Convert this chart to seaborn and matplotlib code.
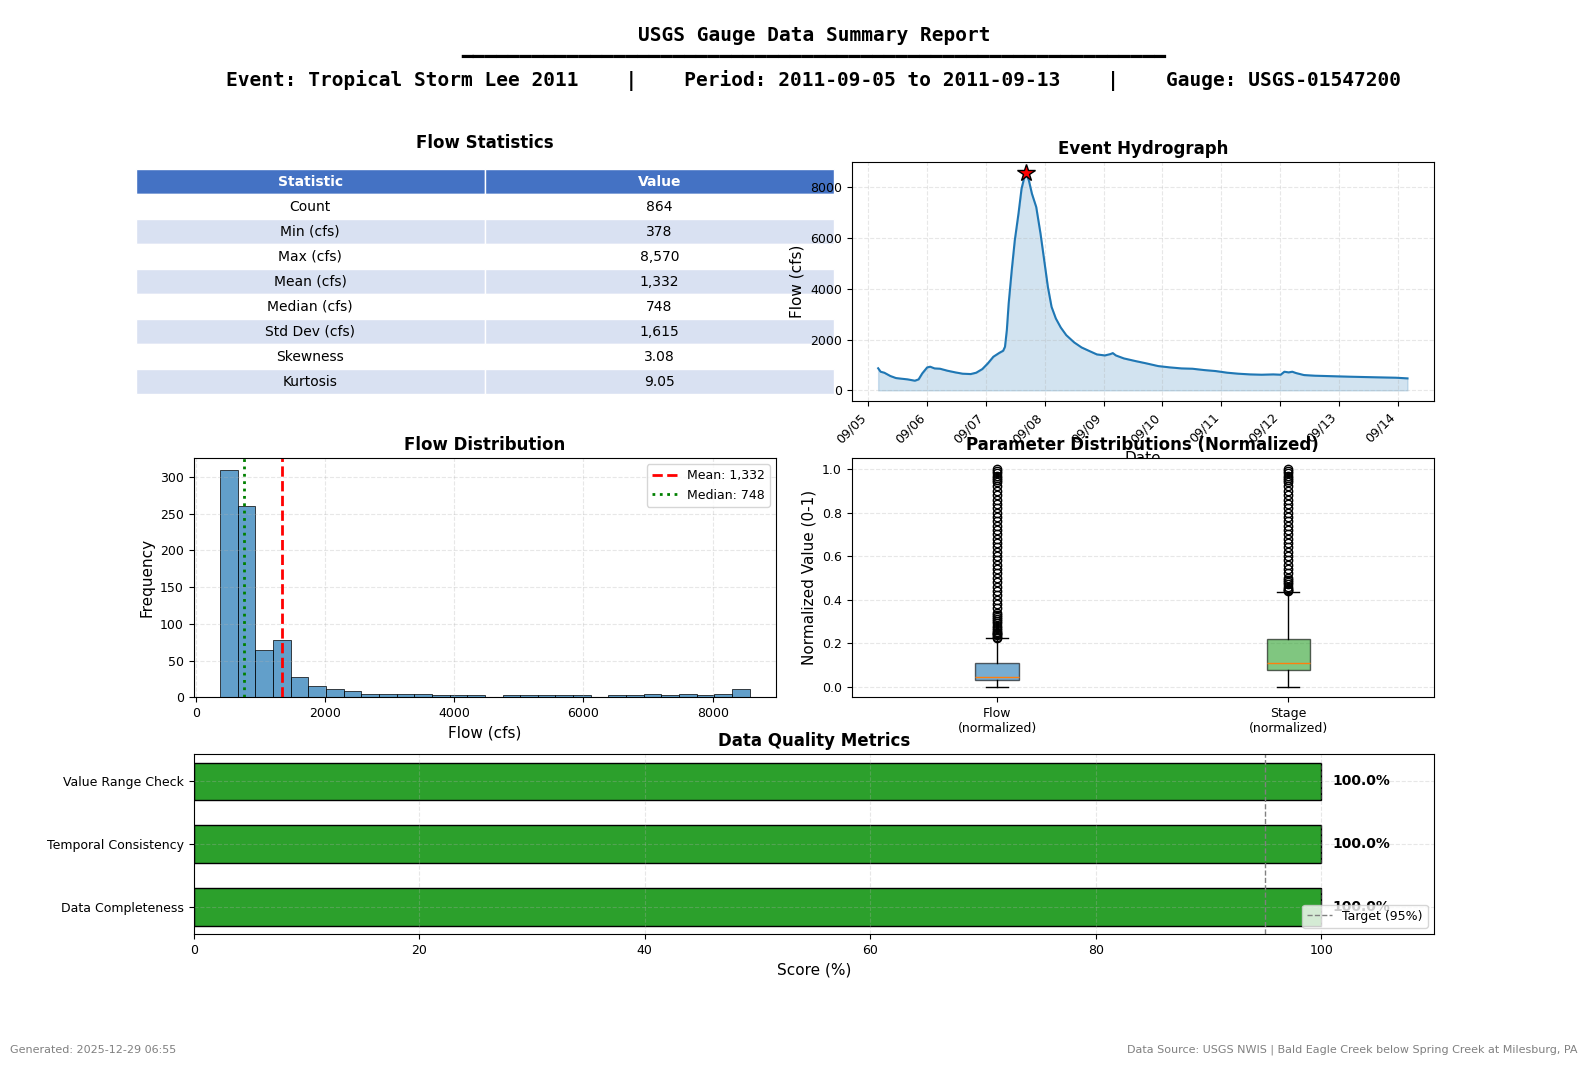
import numpy as np
import pandas as pd
import matplotlib
matplotlib.use("Agg")
import matplotlib.pyplot as plt
import matplotlib.dates as mdates
import seaborn as sns

# --- header / footer text ---
report_title = "USGS Gauge Data Summary Report"
event_name = "Tropical Storm Lee 2011"
period = "2011-09-05 to 2011-09-13"
gauge_id = "USGS-01547200"
generated = "Generated: 2025-12-29 06:55"
source = "Data Source: USGS NWIS | Bald Eagle Creek below Spring Creek at Milesburg, PA"

# --- flow statistics table ---
stat_names = ["Count", "Min (cfs)", "Max (cfs)", "Mean (cfs)", "Median (cfs)",
              "Std Dev (cfs)", "Skewness", "Kurtosis"]
stat_values = ["864", "378", "8,570", "1,332", "748", "1,615", "3.08", "9.05"]

# --- hydrograph: hours after 2011-09-05 00:00, flow in cfs ---
hydro_hours = [4, 5, 6.5, 9, 11.25, 13.5, 16, 17.5, 19, 20.5, 22, 24, 25.25, 27,
               29.25, 32.25, 35.5, 38.5, 41.75, 44, 46.5, 48.75, 51, 53.5, 55, 55.75,
               56.5, 57.25, 58.5, 59.75, 61.25, 62.5, 63.5, 64.25, 65.5, 66.75, 68.5,
               70.25, 71.75, 73.25, 74.75, 76.5, 78.5, 80.75, 84, 87, 90.25, 93.25,
               96.5, 98.75, 99.75, 101, 104.25, 109, 113.5, 118.25, 123, 127.75,
               132.25, 137, 141.75, 146.5, 151, 155.75, 160.5, 165.25, 168.25, 169.75,
               171.5, 173, 174.5, 177.75, 182.25, 187, 191.75, 196.5, 202.75, 209,
               215.25, 220]
hydro_flow = [870, 734, 695, 564, 485, 459, 433, 406, 380, 433, 669, 905, 931, 865,
              852, 774, 708, 656, 642, 695, 839, 1062, 1324, 1481, 1560, 1717,
              2373, 3422, 4733, 5913, 6961, 7944, 8338, 8570, 8272, 7748, 7224,
              6175, 5126, 4077, 3291, 2832, 2478, 2176, 1888, 1691, 1547, 1416,
              1376, 1429, 1468, 1376, 1259, 1154, 1062, 957, 905, 865, 852, 800,
              760, 695, 656, 629, 616, 629, 616, 734, 708, 734, 682, 603, 577, 564,
              551, 538, 524, 511, 498, 472]
peak_hour = 64.25
peak_flow = 8570

# --- flow histogram (30 equal bins between min and max) ---
flow_min, flow_max = 378, 8570
hist_counts = [310, 260, 65, 78, 28, 15, 12, 9, 5, 5, 4, 4, 3, 3, 3, 1, 3, 3, 3,
               3, 3, 1, 3, 3, 4, 3, 4, 3, 4, 11]
mean_flow = 1332
median_flow = 748

# --- normalized box plot summaries ---
box_labels = ["Flow\n(normalized)", "Stage\n(normalized)"]
box_q1 = [0.029, 0.075]
box_med = [0.043, 0.107]
box_q3 = [0.107, 0.218]
box_whislo = [0.0, 0.0]
box_whishi = [0.222, 0.433]
flow_fliers = [0.225, 0.23, 0.235, 0.24, 0.245, 0.25, 0.26, 0.27, 0.28, 0.29, 0.30,
               0.31, 0.32, 0.33, 0.34, 0.36, 0.38, 0.40, 0.42, 0.44, 0.46, 0.48,
               0.50, 0.52, 0.54, 0.56, 0.58, 0.60, 0.62, 0.64, 0.66, 0.68, 0.70,
               0.72, 0.74, 0.76, 0.78, 0.80, 0.82, 0.84, 0.86, 0.88, 0.90, 0.92,
               0.94, 0.95, 0.96, 0.97, 0.98, 0.99, 1.0]
stage_fliers = [0.44, 0.445, 0.45, 0.46, 0.47, 0.48, 0.49, 0.50, 0.52, 0.54, 0.56,
                0.58, 0.60, 0.62, 0.64, 0.66, 0.68, 0.70, 0.72, 0.74, 0.76, 0.78,
                0.80, 0.82, 0.84, 0.86, 0.88, 0.90, 0.92, 0.94, 0.95, 0.96, 0.97,
                0.98, 0.99, 1.0]

# --- data quality ---
quality_metrics = ["Data Completeness", "Temporal Consistency", "Value Range Check"]
quality_scores = [100.0, 100.0, 100.0]
target_score = 95

# ---------------------------------------------------------------
fig = plt.figure(figsize=(15.88, 10.66), dpi=100)
left, right = 0.122, 0.903
gs = fig.add_gridspec(3, 2, left=left, right=right, top=0.848, bottom=0.124,
                      hspace=0.26, wspace=0.13, height_ratios=[4, 4, 3])

header = "\n".join([
    report_title,
    "\u2501" * 60,
    f"Event: {event_name}    |    Period: {period}    |    Gauge: {gauge_id}",
])
fig.text((left + right) / 2, 0.976, header, ha="center", va="top",
         family="DejaVu Sans Mono", fontweight="bold", fontsize=14)

# 1. statistics table
ax_tab = fig.add_subplot(gs[0, 0])
ax_tab.axis("off")
ax_tab.set_title("Flow Statistics", fontsize=12, fontweight="bold", pad=10)
cell_text = [[n, v] for n, v in zip(stat_names, stat_values)]
tab = ax_tab.table(cellText=cell_text, colLabels=["Statistic", "Value"],
                   cellLoc="center", bbox=[-0.1, 0.03, 1.2, 0.94])
tab.auto_set_font_size(False)
tab.set_fontsize(10)
for (r, c), cell in tab.get_celld().items():
    cell.set_edgecolor("white")
    if r == 0:
        cell.set_facecolor("#4472C4")
        cell.get_text().set_color("white")
        cell.get_text().set_fontweight("bold")
    elif r % 2 == 0:
        cell.set_facecolor("#D9E1F2")

# 2. hydrograph
ax_h = fig.add_subplot(gs[0, 1])
t0 = pd.Timestamp("2011-09-05")
hydro = pd.DataFrame({"time": t0 + pd.to_timedelta(hydro_hours, unit="h"),
                      "flow": hydro_flow})
sns.lineplot(data=hydro, x="time", y="flow", ax=ax_h, color="C0", linewidth=1.5)
ax_h.fill_between(hydro["time"], hydro["flow"], alpha=0.2, color="C0")
ax_h.plot(t0 + pd.Timedelta(hours=peak_hour), peak_flow, marker="*", color="red",
          markersize=13, markeredgecolor="black", zorder=5)
ax_h.xaxis.set_major_locator(mdates.DayLocator())
ax_h.xaxis.set_major_formatter(mdates.DateFormatter("%m/%d"))
plt.setp(ax_h.get_xticklabels(), rotation=45, ha="right")
ax_h.tick_params(labelsize=9)
ax_h.set_title("Event Hydrograph", fontsize=12, fontweight="bold")
ax_h.set_xlabel("Date", fontsize=11)
ax_h.set_ylabel("Flow (cfs)", fontsize=11)
ax_h.grid(True, alpha=0.3, linestyle="--")

# 3. flow distribution
ax_d = fig.add_subplot(gs[1, 0])
edges = np.linspace(flow_min, flow_max, len(hist_counts) + 1)
hist_df = pd.DataFrame({"flow": (edges[:-1] + edges[1:]) / 2,
                        "count": hist_counts})
sns.histplot(data=hist_df, x="flow", weights="count", bins=list(edges), ax=ax_d,
             color="C0", alpha=0.7, edgecolor="black", linewidth=0.5)
ax_d.axvline(mean_flow, color="red", linestyle="--", linewidth=2,
             label=f"Mean: {mean_flow:,}")
ax_d.axvline(median_flow, color="green", linestyle=":", linewidth=2,
             label=f"Median: {median_flow:,}")
ax_d.set_title("Flow Distribution", fontsize=12, fontweight="bold")
ax_d.set_xlabel("Flow (cfs)", fontsize=11)
ax_d.set_ylabel("Frequency", fontsize=11)
ax_d.tick_params(labelsize=9)
ax_d.legend(loc="upper right", fontsize=9)
ax_d.grid(True, alpha=0.3, linestyle="--")

# 4. normalized parameter distributions
ax_b = fig.add_subplot(gs[1, 1])
stats = []
for i, lab in enumerate(box_labels):
    stats.append(dict(label=lab, q1=box_q1[i], med=box_med[i], q3=box_q3[i],
                      whislo=box_whislo[i], whishi=box_whishi[i],
                      fliers=[flow_fliers, stage_fliers][i]))
bp = ax_b.bxp(stats, patch_artist=True)
for patch, col in zip(bp["boxes"], ["C0", "C2"]):
    patch.set_facecolor(col)
    patch.set_alpha(0.6)
ax_b.set_xlim(0.5, 2.5)
ax_b.set_title("Parameter Distributions (Normalized)", fontsize=12, fontweight="bold")
ax_b.set_ylabel("Normalized Value (0-1)", fontsize=11)
ax_b.tick_params(labelsize=9)
ax_b.grid(True, alpha=0.3, linestyle="--", axis="y")

# 5. data quality metrics
ax_q = fig.add_subplot(gs[2, :])
qdf = pd.DataFrame({"metric": quality_metrics, "score": quality_scores})
order = quality_metrics[::-1]
sns.barplot(data=qdf, x="score", y="metric", order=order, orient="h",
            color="#2ca02c", saturation=1, edgecolor="black", width=0.6, ax=ax_q)
ax_q.axvline(target_score, color="gray", linestyle="--", linewidth=1,
             label=f"Target ({target_score}%)")
score_of = dict(zip(quality_metrics, quality_scores))
for i, m in enumerate(order):
    ax_q.text(score_of[m] + 1, i, f"{score_of[m]:.1f}%", va="center",
              fontweight="bold", fontsize=10)
ax_q.set_xlim(0, 110)
ax_q.set_ylim(2.43, -0.43)
ax_q.set_title("Data Quality Metrics", fontsize=12, fontweight="bold")
ax_q.set_xlabel("Score (%)", fontsize=11)
ax_q.set_ylabel("")
ax_q.tick_params(labelsize=9)
ax_q.legend(loc="lower right", fontsize=9)
ax_q.grid(True, alpha=0.3, linestyle="--")

fig.text(0.0063, 0.015, generated, ha="left", va="center", fontsize=8, color="gray")
fig.text(0.9937, 0.015, source, ha="right", va="center", fontsize=8, color="gray")

fig.savefig("out.png", dpi=100)
